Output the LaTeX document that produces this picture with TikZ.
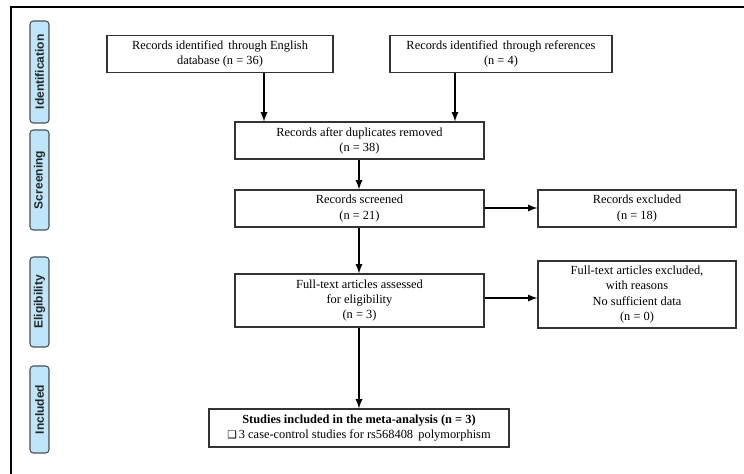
\documentclass[tikz,border=0pt]{standalone}
\usepackage{fontspec}
\setmainfont{Liberation Serif}
\setsansfont{Liberation Sans}
\newfontfamily\symfont{DejaVu Sans}
\definecolor{lblue}{RGB}{190,230,248}
\definecolor{lborder}{RGB}{70,80,90}
\begin{document}
\begin{tikzpicture}[x=0.75pt,y=-0.75pt,
  box/.style={draw=black!80,line width=0.9pt,inner sep=0pt,align=center,font=\fontsize{9.3}{11.3}\selectfont},
  phase/.style={draw=lborder,fill=lblue,rounded corners=2.5pt,line width=0.8pt},
  phasetext/.style={rotate=90,font=\sffamily\bfseries\fontsize{9}{10}\selectfont,text=black!85},
  arr/.style={-latex,line width=1.4pt}]
\useasboundingbox (0,0) rectangle (744,474);
% outer frame
\draw[line width=1.2pt] (11,480) -- (11,7) -- (750,7);
% phase labels
\draw[phase] (30,21) rectangle (49,123);
\node[phasetext] (lid) at (39.5,72) {Identification};
\draw[phase] (30,130) rectangle (49,230);
\node[phasetext] (lsc) at (39.5,180) {Screening};
\draw[phase] (30,257) rectangle (49,347);
\node[phasetext] (lel) at (39.5,302) {Eligibility};
\draw[phase] (30,366) rectangle (49,453);
\node[phasetext] (lin) at (39.5,409.5) {Included};
% boxes
\node[box,minimum width=226*0.75pt,minimum height=37*0.75pt] (b1) at (220,54) {Records identified\, through English\\database (n = 36)};
\node[box,minimum width=222*0.75pt,minimum height=37*0.75pt] (b2) at (501,54) {Records identified\, through references\\(n = 4)};
\node[box,minimum width=249*0.75pt,minimum height=37*0.75pt] (b3) at (359.5,140.5) {Records after duplicates removed\\(n = 38)};
\node[box,minimum width=249*0.75pt,minimum height=37*0.75pt] (b4) at (359.5,208.5) {Records screened\\(n = 21)};
\node[box,minimum width=198*0.75pt,minimum height=37*0.75pt] (b5) at (637,208.5) {Records excluded\\(n = 18)};
\node[box,minimum width=249*0.75pt,minimum height=53*0.75pt] (b6) at (359.5,300.5) {Full-text articles assessed\\for eligibility\\(n = 3)};
\node[box,minimum width=198*0.75pt,minimum height=67*0.75pt] (b7) at (637,294.5) {Full-text articles excluded,\\with reasons\\No sufficient data\\(n = 0)};
\node[box,minimum width=300*0.75pt,minimum height=38*0.75pt] (b8) at (359,428) {\textbf{Studies included in the meta-analysis (n = 3)}\\{\symfont\fontsize{8}{10}\selectfont ❑}\,3 case-control studies for rs568408\, polymorphism};
% arrows
\draw[arr] (b1.south -| 264,0) -- (b3.north -| 264,0);
\draw[arr] (b2.south -| 455,0) -- (b3.north -| 455,0);
\draw[arr] (b3.south -| 359,0) -- (b4.north -| 359,0);
\draw[arr] (b4.south -| 359,0) -- (b6.north -| 359,0);
\draw[arr] (b6.south -| 359,0) -- (b8.north -| 359,0);
\draw[arr] (b4.east |- 0,208) -- (b5.west |- 0,208);
\draw[arr] (b6.east |- 0,298) -- (b7.west |- 0,298);
\end{tikzpicture}
\end{document}
